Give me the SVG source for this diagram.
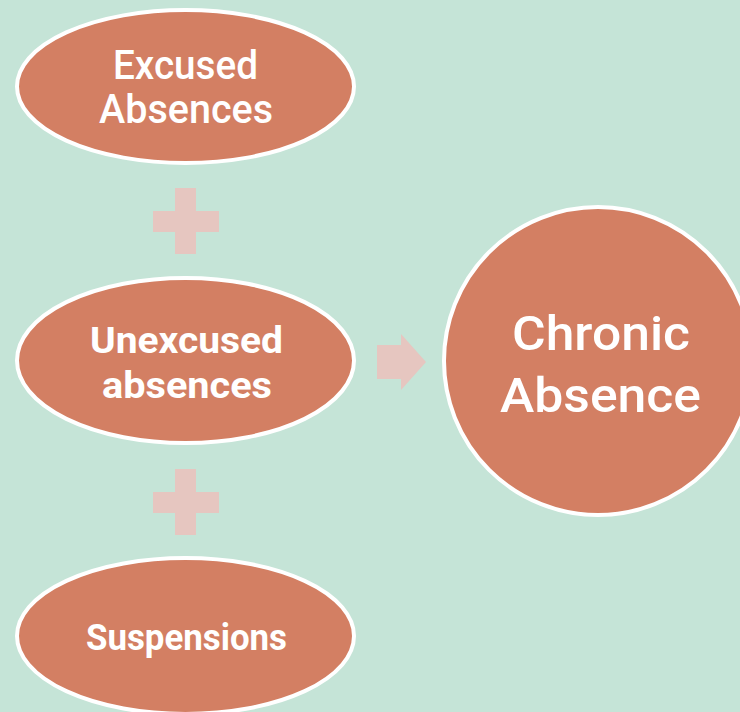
<svg xmlns="http://www.w3.org/2000/svg" width="740" height="712" viewBox="0 0 740 712">
<style>
.node{fill:#d37f63;stroke:#ffffff;stroke-width:4}
.lbl{fill:#ffffff;font-family:Roboto,"Liberation Sans",sans-serif;text-anchor:middle}
.med{font-weight:500}
.bold{font-weight:700}
.sym{fill:#e6c6c0}
</style>
<rect width="740" height="712" fill="#c5e4d7"/>
<g id="connectors">
<path class="sym" d="M175 188H196V211H219V232H196V254H175V232H153V211H175Z"/>
<path class="sym" d="M175 469H196V492H219V513H196V535H175V513H153V492H175Z"/>
<path class="sym" d="M377 345H401V334L426 362L401 390V379H377Z"/>
</g>
<g id="excused">
<ellipse class="node" cx="185.5" cy="86.5" rx="168.5" ry="76.5"/>
<text class="lbl med" x="185.5" y="79" font-size="40" textLength="145" lengthAdjust="spacingAndGlyphs">Excused</text>
<text class="lbl med" x="186" y="123" font-size="40" textLength="174" lengthAdjust="spacingAndGlyphs">Absences</text>
</g>
<g id="unexcused">
<ellipse class="node" cx="185.5" cy="360.5" rx="168.5" ry="82.5"/>
<text class="lbl bold" x="186.5" y="353" font-size="37" textLength="193" lengthAdjust="spacingAndGlyphs">Unexcused</text>
<text class="lbl bold" x="187" y="398" font-size="37" textLength="170" lengthAdjust="spacingAndGlyphs">absences</text>
</g>
<g id="suspensions">
<ellipse class="node" cx="185.5" cy="636" rx="168.5" ry="78"/>
<text class="lbl bold" x="186.5" y="650" font-size="36" textLength="201" lengthAdjust="spacingAndGlyphs">Suspensions</text>
</g>
<g id="chronic">
<circle class="node" cx="598" cy="361" r="154"/>
<text class="lbl med" x="601" y="350" font-size="49" textLength="178" lengthAdjust="spacingAndGlyphs">Chronic</text>
<text class="lbl med" x="600.5" y="412" font-size="49" textLength="201" lengthAdjust="spacingAndGlyphs">Absence</text>
</g>
</svg>
